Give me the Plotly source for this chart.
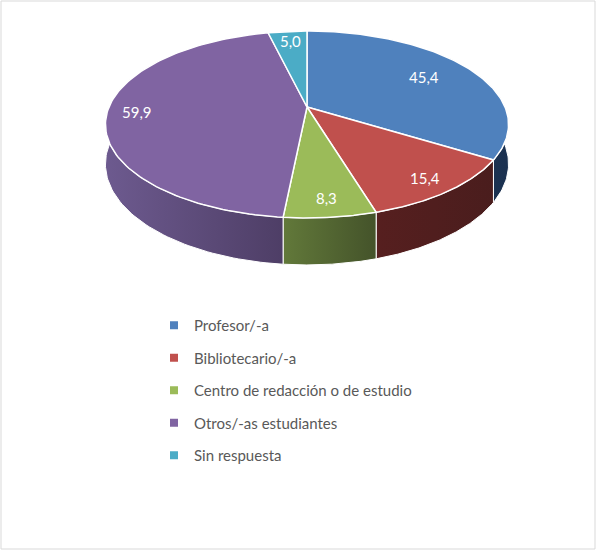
import numpy as np
import plotly.graph_objects as go

# ---- data ----
categories = ["Profesor/-a", "Bibliotecario/-a", "Centro de redacción o de estudio",
              "Otros/-as estudiantes", "Sin respuesta"]
values = [45.4, 15.4, 8.3, 59.9, 5.0]
value_labels = ["45,4", "15,4", "8,3", "59,9", "5,0"]

# ---- style ----
top_colors = ["#4F81BD", "#C0504D", "#9BBB59", "#8064A2", "#4BACC6"]
side_colors = [("#243e5e", "#1b3150"), ("#561f1f", "#4a1d1d"), ("#62793a", "#44532a"),
               ("#6d5a8f", "#4e3e66"), ("#2c6d80", "#1f566a")]
label_r = [0.72, 0.86, 0.85, 0.85, 0.85]

W, Hpx = 597, 551
CX, CY = 307, 107          # projected pie apex (pixels)
A, B, K, DEPTH = 70.2, 198.0, 0.187, 38.2


def proj(theta, r=1.0, drop=0.0):
    u = r * np.sin(theta)
    v = r * np.cos(theta)
    d = 1 + K * v
    return CX + B * u / d, (CY - A * v) / d + drop / d


total = sum(values)
bounds = np.concatenate([[0], np.cumsum(values)]) / total * 2 * np.pi

fig = go.Figure()

# side walls
for i in range(len(values)):
    t = np.linspace(bounds[i], bounds[i + 1], 120)
    xt, yt = proj(t)
    xb, yb = proj(t[::-1], drop=DEPTH)
    xs = np.concatenate([xt, xb, xt[:1]])
    ys = np.concatenate([yt, yb, yt[:1]])
    c1, c2 = side_colors[i]
    fig.add_trace(go.Scatter(
        x=xs, y=ys, mode="lines", fill="toself",
        fillgradient=dict(type="horizontal", colorscale=[[0, c1], [1, c2]]),
        line=dict(color="white", width=1), hoverinfo="skip", showlegend=False))

# top faces
for i in range(len(values)):
    t = np.linspace(bounds[i], bounds[i + 1], 120)
    xt, yt = proj(t)
    xs = np.concatenate([[CX], xt, [CX]])
    ys = np.concatenate([[CY], yt, [CY]])
    fig.add_trace(go.Scatter(
        x=xs, y=ys, mode="lines", fill="toself", fillcolor=top_colors[i],
        line=dict(color="white", width=1.5), hoverinfo="skip", showlegend=False))

# legend entries
for i, name in enumerate(categories):
    fig.add_trace(go.Scatter(
        x=[None], y=[None], mode="markers", name=name, legendgroup=f"g{i}",
        marker=dict(symbol="square", size=8, color=top_colors[i])))

# data labels
for i, lab in enumerate(value_labels):
    mid = (bounds[i] + bounds[i + 1]) / 2
    lx, ly = proj(mid, r=label_r[i])
    fig.add_annotation(x=lx, y=ly, text=lab, showarrow=False,
                       font=dict(family="Lato", size=15, color="white"))

fig.add_shape(type="rect", x0=1, y0=1, x1=W - 2, y1=Hpx - 2,
              line=dict(color="#D9D9D9", width=1), layer="below")

fig.update_layout(
    width=W, height=Hpx, margin=dict(l=0, r=0, t=0, b=0),
    paper_bgcolor="white", plot_bgcolor="white",
    xaxis=dict(range=[0, W], visible=False, fixedrange=True),
    yaxis=dict(range=[Hpx, 0], visible=False, fixedrange=True),
    showlegend=True,
    legend=dict(x=154 / W, y=1 - 309 / Hpx, xanchor="left", yanchor="top",
                traceorder="grouped", tracegroupgap=10,
                font=dict(family="Lato", size=15, color="#595959"),
                bgcolor="rgba(0,0,0,0)"),
)

fig.write_html("out.html", config={"displayModeBar": False},
               post_script="document.body.style.margin='0';document.body.style.overflow='hidden';")
